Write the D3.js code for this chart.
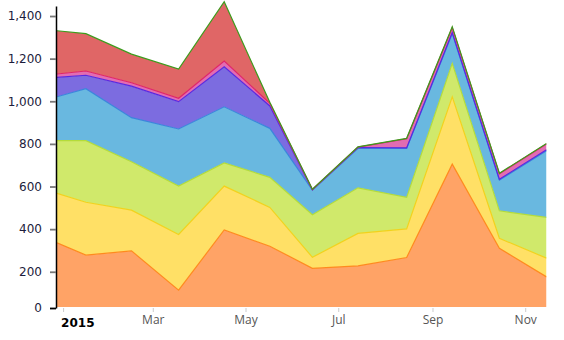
<!DOCTYPE html>
<html>
<head>
<meta charset="utf-8">
<script src="https://cdn.jsdelivr.net/npm/d3@7"></script>
<style>
  html, body { margin: 0; padding: 0; background: #fff; }
  svg { display: block; }
</style>
</head>
<body>
<svg id="chart" width="564" height="340"></svg>
<script>
// Observation dates (one per month)
const dates = ["2014-12-28", "2015-01-16", "2015-02-15", "2015-03-18", "2015-04-17", "2015-05-17",
               "2015-06-14", "2015-07-14", "2015-08-15", "2015-09-14", "2015-10-15", "2015-11-15"];

// Stacked series, bottom to top
const orange = [336, 278, 298, 114, 396, 320, 216, 228, 267, 705, 310, 176];
const yellow = [232, 248, 191, 261, 206, 182,  52, 152, 134, 316,  47,  88];
const green  = [247, 289, 227, 227, 109, 141, 200, 214, 148, 157, 129, 191];
const blue   = [206, 244, 207, 268, 263, 230, 115, 185, 230, 140, 144, 313];
const purple = [ 91,  63, 148, 128, 188, 105,   2,   4,   2,   4,   4,   4];
const pink   = [ 16,  20,  16,  16,  27,  12,   1,   2,  43,  23,  26,  28];
const red    = [203, 175, 134, 137, 278,   5,   1,   1,   2,   5,   2,   2];

const yTicks = [0, 200, 400, 600, 800, 1000, 1200, 1400];

const keys = ["orange", "yellow", "green", "blue", "purple", "pink", "red"];
const fills = {
  orange: "#ffa366", yellow: "#ffe066", green: "#d0e96b", blue: "#69b8e0",
  purple: "#7c6ce0", pink: "#e26cb2", red: "#e06666"
};
const strokes = {
  orange: "#ff8a1e", yellow: "#f2d21c", green: "#b4dc3a", blue: "#3a86dc",
  purple: "#5a28e0", pink: "#e0246a", red: "#3c9c1c"
};
const cols = { orange, yellow, green, blue, purple, pink, red };

const parse = d3.utcParse("%Y-%m-%d");
const rows = dates.map((d, i) => {
  const r = { date: parse(d) };
  keys.forEach(k => r[k] = cols[k][i]);
  return r;
});

const svg = d3.select("#chart");
const plotLeft = 57, plotRight = 546.5, plotTop = 6, plotBottom = 308;

const x = d3.scaleUtc()
  .domain(d3.extent(rows, d => d.date))
  .range([plotLeft, plotRight]);

const y = d3.scaleLinear()
  .domain([30, 1447])
  .range([plotBottom, plotTop]);

const stacked = d3.stack().keys(keys)(rows);

svg.append("defs").append("clipPath").attr("id", "plot")
  .append("rect")
  .attr("x", plotLeft).attr("y", -10)
  .attr("width", plotRight - plotLeft).attr("height", plotBottom - 1 + 10);

const plot = svg.append("g").attr("clip-path", "url(#plot)");

const area = d3.area()
  .x(d => x(d.data.date))
  .y0(d => y(d[0]))
  .y1(d => y(d[1]));

const edge = d3.line()
  .x(d => x(d.data.date))
  .y(d => y(d[1]));

plot.selectAll("path.layer")
  .data(stacked)
  .join("path")
  .attr("class", "layer")
  .attr("fill", s => fills[s.key])
  .attr("d", area);

plot.selectAll("path.edge")
  .data(stacked)
  .join("path")
  .attr("class", "edge")
  .attr("fill", "none")
  .attr("stroke", s => strokes[s.key])
  .attr("stroke-width", 1.2)
  .attr("d", edge);

// Y axis
const yAxisScale = y.copy().clamp(true);
const gy = svg.append("g")
  .attr("transform", `translate(${plotLeft - 1},0)`)
  .call(d3.axisLeft(yAxisScale)
    .tickValues(yTicks)
    .tickFormat(d3.format(","))
    .tickSize(6)
    .tickSizeOuter(0)
    .tickPadding(8));
gy.select(".domain").attr("stroke", "#000").attr("stroke-width", 1.5);
gy.selectAll(".tick line")
  .attr("stroke", d => d === 0 ? "#000" : "#777")
  .attr("stroke-width", 1.8);
gy.selectAll(".tick text")
  .attr("fill", "#1c1c3c")
  .style("font-family", "'DejaVu Sans', Verdana, sans-serif")
  .style("font-size", "12px");

// X axis
const monthFmt = d3.utcFormat("%b");
const yearFmt = d3.utcFormat("%Y");
const gx = svg.append("g")
  .attr("transform", `translate(0,${plotBottom})`)
  .call(d3.axisBottom(x)
    .ticks(d3.utcMonth.every(2))
    .tickFormat(d => d.getUTCMonth() === 0 ? yearFmt(d) : monthFmt(d))
    .tickSize(4)
    .tickSizeOuter(0)
    .tickPadding(6));
gx.select(".domain").remove();
gx.selectAll(".tick line").attr("stroke", "#ccc");
gx.selectAll(".tick text")
  .each(function(d) {
    const t = d3.select(this);
    if (d.getUTCMonth() === 0) {
      t.attr("text-anchor", "start")
        .attr("x", -2.5)
        .attr("y", 10)
        .attr("fill", "#000")
        .style("font-family", "'DejaVu Sans', Verdana, sans-serif")
        .style("font-weight", "bold")
        .style("font-size", "12px");
    } else {
      t.attr("fill", "#555")
        .attr("y", 7)
        .style("font-family", "'Open Sans', sans-serif")
        .style("font-size", "12px");
    }
  });
</script>
</body>
</html>
